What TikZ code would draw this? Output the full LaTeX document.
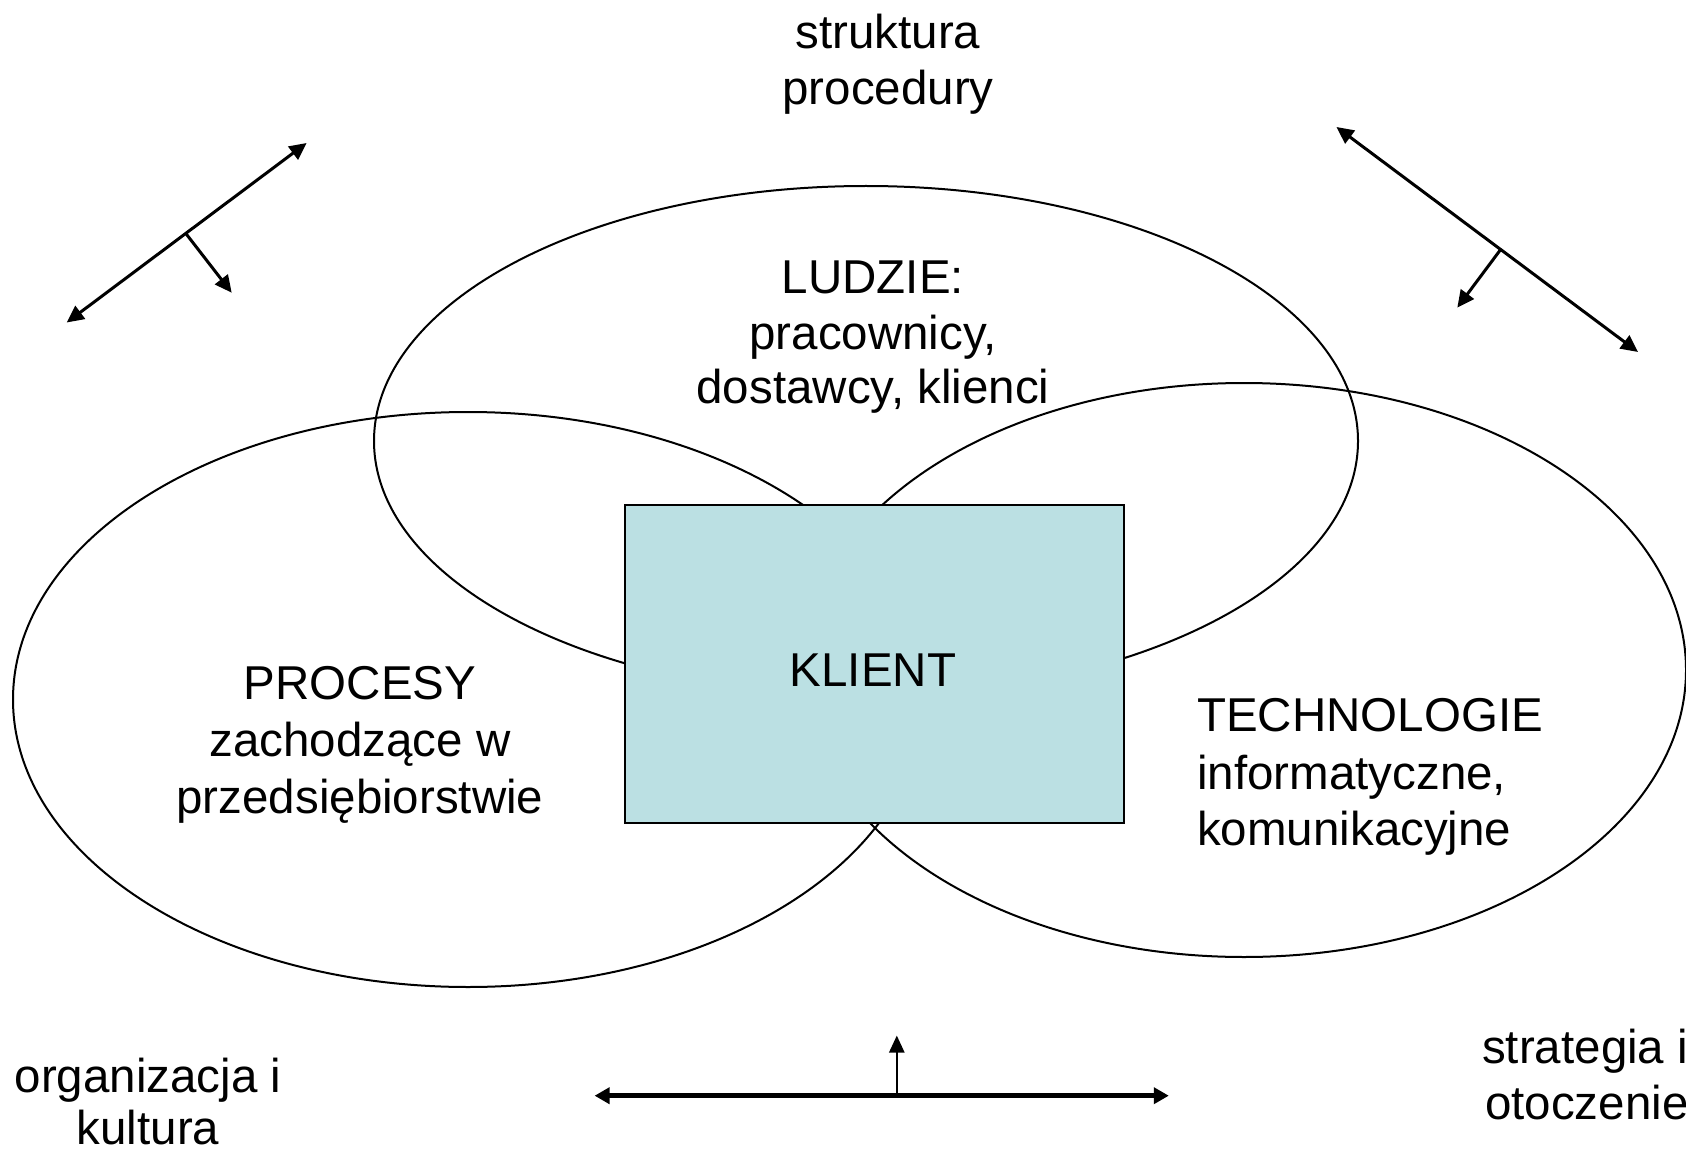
\documentclass[tikz,border=0pt]{standalone}
\usepackage{fontspec}
\setmainfont{Liberation Sans}
\usetikzlibrary{arrows.meta}
\definecolor{klientfill}{RGB}{187,224,227}
\tikzset{
  txt/.style={inner sep=0pt, anchor=base, font=\fontsize{47.5}{56}\selectfont},
  txtl/.style={txt, anchor=base west},
  ring/.style={draw=black, line width=2pt},
  tip/.style={-{Triangle[length=17pt,width=16pt]}},
  dtip/.style={{Triangle[length=17pt,width=16pt]}-{Triangle[length=17pt,width=16pt]}},
  diag/.style={line width=3pt, dtip},
  branch/.style={line width=3pt, tip},
}
\begin{document}
\begin{tikzpicture}[x=1pt,y=-1pt]
\useasboundingbox (0,0) rectangle (1686,1150);
\clip (0,0) rectangle (1686,1150);
% ellipses
\draw[ring] (866,441) ellipse [x radius=492, y radius=255];
\draw[ring] (468,699.5) ellipse [x radius=455, y radius=287.5];
\draw[ring] (1244,670) ellipse [x radius=442, y radius=287];
% client box
\node[draw=black, line width=2.5pt, fill=klientfill, minimum width=499pt, minimum height=318pt, inner sep=0pt] (box) at (874.5,664) {};
\node[txt] (klient) at (873,686.5) {KLIENT};
% texts
\node[txt] (s1) at (888,48.5) {struktura};
\node[txt] (s2) at (888,105) {procedury};
\node[txt] (l1) at (873,293.5) {LUDZIE:};
\node[txt] (l2) at (873,349.5) {pracownicy,};
\node[txt] (l3) at (873,403.5) {dostawcy, klienci};
\node[txt] (p1) at (360,699) {PROCESY};
\node[txt] (p2) at (360,756) {zachodzące w};
\node[txt] (p3) at (360,813) {przedsiębiorstwie};
\node[txtl] (t1) at (1197,731.5) {TECHNOLOGIE};
\node[txtl] (t2) at (1197,789) {informatyczne,};
\node[txtl] (t3) at (1197,845) {komunikacyjne};
\node[txt] (o1) at (148,1092.5) {organizacja i};
\node[txt] (o2) at (148,1144) {kultura};
\node[txtl] (g1) at (1482,1063) {strategia i};
\node[txtl] (g2) at (1485,1119) {otoczenie};
% arrows top-left
\coordinate (a1) at (66.7,322.5);
\coordinate (a2) at (306.6,143);
\coordinate (a3) at (185.7,233.3);
\coordinate (a4) at (231.7,292.7);
\draw[diag] (a1) -- (a2);
\draw[branch] (a3) -- (a4);
% arrows top-right
\coordinate (b1) at (1336.5,127);
\coordinate (b2) at (1638,352);
\coordinate (b3) at (1501,249);
\coordinate (b4) at (1457.3,307.6);
\draw[diag] (b1) -- (b2);
\draw[branch] (b3) -- (b4);
% bottom arrows
\coordinate (c1) at (594.6,1095.7);
\coordinate (c2) at (1168.8,1095.7);
\coordinate (c3) at (896.8,1095.7);
\coordinate (c4) at (896.8,1035.5);
\draw[line width=4.5pt, {Triangle[length=15pt,width=16pt]}-{Triangle[length=15pt,width=16pt]}] (c1) -- (c2);
\draw[line width=2.5pt, -{Triangle[length=17pt,width=15pt]}] (c3) -- (c4);
\end{tikzpicture}
\end{document}
